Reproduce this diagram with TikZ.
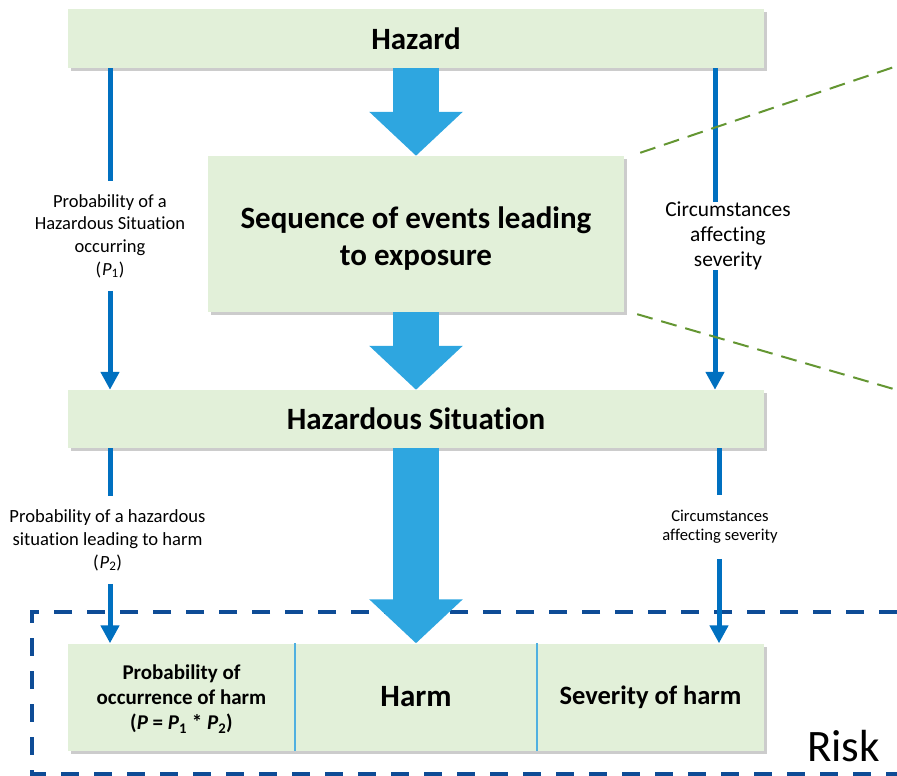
\documentclass[tikz,border=0pt]{standalone}
\usepackage{fontspec}
\setmainfont{Carlito}[Ligatures=NoCommon]
\usetikzlibrary{arrows.meta,shadows}

\definecolor{boxgreen}{RGB}{226,240,217}
\definecolor{bigblue}{RGB}{46,166,224}
\definecolor{thinblue}{RGB}{0,112,192}
\definecolor{riskblue}{RGB}{14,76,150}
\definecolor{zoomgreen}{RGB}{100,150,50}
\definecolor{divblue}{RGB}{80,176,224}

\tikzset{
  box/.style 2 args={fill=boxgreen, inner sep=0pt, align=center,
    font=\bfseries\fontsize{#1}{#2}\selectfont,
    drop shadow={shadow xshift=3pt, shadow yshift=-3pt, opacity=0.4}},
  lbl/.style 2 args={inner xsep=0pt, align=center, font=\fontsize{#1}{#2}\selectfont},
  bigarrow/.style={draw=bigblue, line width=46pt, -{Triangle[width=91pt,length=44pt]}},
  thinline/.style={draw=thinblue, line width=5pt},
  thinarrow/.style={thinline, -{Triangle[width=18pt,length=18pt]}},
  zoomdash/.style={draw=zoomgreen, line width=2pt, dash pattern=on 16pt off 9pt},
  riskdash/.style={draw=riskblue, line width=4pt, dash pattern=on 18pt off 15pt},
  divider/.style={draw=divblue, line width=1.5pt},
}

\begin{document}
\begin{tikzpicture}[x=1pt, y=-1pt]
    \useasboundingbox (0,0) rectangle (897,776);

    \draw[riskdash] (897,612) -| (32,774) -- (897,774);
    \node[anchor=base west, inner sep=0pt, font=\fontsize{45}{54}\selectfont] (risk) at (807,761) {Risk};

    \node[box={31}{37}, minimum width=696pt, minimum height=59pt] (hazard) at (416,38.5) {Hazard};
    \node[box={31}{37}, minimum width=416pt, minimum height=156pt] (seq) at (416,234) {\rule{0pt}{30pt}Sequence of events leading\\to exposure};
    \node[box={31}{37}, minimum width=696pt, minimum height=58pt] (sit) at (416,419) {Hazardous Situation};

    \node[box={21}{25}, minimum width=227pt, minimum height=107pt] (prob) at (181.5,697) {\rule{0pt}{19pt}Probability of\\occurrence of harm\\(\textit{P} = \textit{P}\textsubscript{1} * \textit{P}\textsubscript{2})};
    \node[box={31}{37}, minimum width=242pt, minimum height=107pt] (harm) at (416,697) {Harm};
    \node[box={26.5}{32}, minimum width=227pt, minimum height=107pt] (sev) at (650.5,697) {Severity of harm};
    \draw[divider] (prob.north east) -- (prob.south east);
    \draw[divider] (harm.north east) -- (harm.south east);

    \draw[bigarrow] (hazard.south) -- (seq.north);
    \draw[bigarrow] (seq.south) -- (sit.north);
    \draw[bigarrow] (sit.south) -- (harm.north);

    \coordinate (lx) at (110,0);
    \coordinate (rx1) at (715,0);
    \coordinate (rx2) at (719,0);

    \node[lbl={18.5}{22.7}, inner ysep=13pt] (p1) at (110,236) {Probability of a\\Hazardous Situation\\occurring\\(\kern1pt\textit{P}\textsubscript{1})};
    \node[lbl={21.4}{25}, inner ysep=0pt] (sev1) at (728,236) {Circumstances\\affecting\\severity};
    \node[lbl={18.6}{23}, inner ysep=13pt] (p2) at (107.5,540) {Probability of a hazardous\\situation leading to harm\\(\kern1pt\textit{P}\textsubscript{2})};
    \node[lbl={16.6}{19}, inner ysep=15pt] (sev2) at (720,527) {Circumstances\\affecting severity};

    \draw[thinline] (hazard.south -| lx) -- (p1.north -| lx);
    \draw[thinarrow] (p1.south -| lx) -- (sit.north -| lx);
    \draw[thinline] (hazard.south -| rx1) -- (sev1.north -| rx1);
    \draw[thinarrow] (sev1.south -| rx1) -- (sit.north -| rx1);
    \draw[thinline] (sit.south -| lx) -- (p2.north -| lx);
    \draw[thinarrow] (p2.south -| lx) -- (prob.north -| lx);
    \draw[thinline] (sit.south -| rx2) -- (sev2.north -| rx2);
    \draw[thinarrow] (sev2.south -| rx2) -- (sev.north -| rx2);

    \draw[zoomdash] ([shift={(16,-3)}]seq.north east) -- (897,66);
    \draw[zoomdash] ([shift={(13,2)}]seq.south east) -- (897,390);
\end{tikzpicture}
\end{document}
